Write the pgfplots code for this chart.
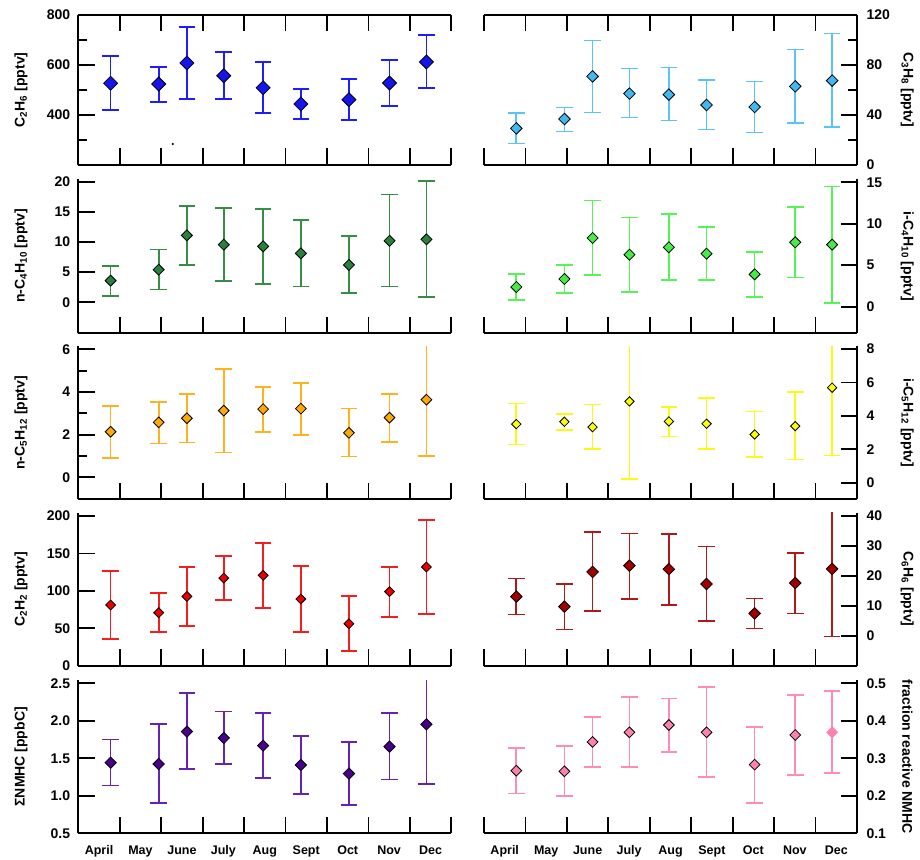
\documentclass[border=0pt]{standalone}
\usepackage{fontspec}
\setmainfont{Liberation Sans}
\usepackage{pgfplots}
\usepackage{pgfplotstable}
\pgfplotsset{compat=1.18}

\definecolor{cBlueF}{RGB}{20,20,235}
\definecolor{cBlueB}{RGB}{30,30,250}
\definecolor{cSkyF}{RGB}{64,184,240}
\definecolor{cSkyB}{RGB}{90,195,250}
\definecolor{cDGreenF}{RGB}{40,130,60}
\definecolor{cDGreenB}{RGB}{55,140,70}
\definecolor{cLGreenF}{RGB}{70,235,70}
\definecolor{cLGreenB}{RGB}{85,245,85}
\definecolor{cOrangeF}{RGB}{255,170,0}
\definecolor{cOrangeB}{RGB}{255,178,30}
\definecolor{cYellowF}{RGB}{255,255,0}
\definecolor{cYellowB}{RGB}{250,250,20}
\definecolor{cRedF}{RGB}{235,0,0}
\definecolor{cRedB}{RGB}{245,30,30}
\definecolor{cDRedF}{RGB}{160,0,0}
\definecolor{cDRedB}{RGB}{175,25,25}
\definecolor{cPurpleF}{RGB}{75,0,140}
\definecolor{cPurpleB}{RGB}{100,35,180}
\definecolor{cPinkF}{RGB}{255,130,170}
\definecolor{cPinkB}{RGB}{255,140,180}

% columns: x (month position), y (mean), hi (upper end), lo (lower end)
\pgfplotstableread{
x y hi lo
0.78 527 636 419
1.94 524 593 453
2.62 608 751 465
3.51 557 653 463
4.46 509 612 407
5.37 444 504 384
6.53 461 545 379
7.51 528 619 435
8.40 612 721 508
}\ethane
\pgfplotstableread{
x y hi lo
0.78 29.3 41.6 17.1
1.94 36.8 46.1 26.9
2.62 70.9 99.7 41.9
3.51 57.1 77.1 37.9
4.46 56.3 77.9 35.7
5.37 48.0 68.0 28.3
6.53 46.4 66.7 25.9
7.51 62.9 92.3 33.6
8.40 67.5 105.3 30.4
}\propane
\pgfplotstableread{
x y hi lo
0.78 3.59 5.97 1.10
1.94 5.41 8.78 2.10
2.62 11.10 16.00 6.13
3.51 9.56 15.60 3.48
4.46 9.28 15.50 3.09
5.37 8.12 13.60 2.60
6.53 6.19 11.00 1.49
7.51 10.20 17.90 2.60
8.40 10.44 20.10 0.83
}\nbutane
\pgfplotstableread{
x y hi lo
0.78 2.37 3.90 0.80
1.94 3.34 5.03 1.65
2.62 8.28 12.79 3.82
3.51 6.27 10.74 1.81
4.46 7.16 11.18 3.18
5.37 6.39 9.57 3.22
6.53 3.90 6.63 1.17
7.51 7.76 12.02 3.50
8.40 7.48 14.48 0.48
}\ibutane
\pgfplotstableread{
x y hi lo
0.78 2.14 3.34 0.92
1.94 2.58 3.53 1.58
2.62 2.77 3.91 1.64
3.51 3.13 5.08 1.16
4.46 3.20 4.25 2.13
5.37 3.22 4.42 1.97
6.53 2.09 3.23 0.97
7.51 2.80 3.92 1.67
8.40 3.64 7.00 1.00
}\npentane
\pgfplotstableread{
x y hi lo
0.78 3.51 4.75 2.29
1.94 3.65 4.13 3.17
2.62 3.33 4.69 2.03
3.51 4.87 9.50 0.24
4.46 3.67 4.55 2.77
5.37 3.53 5.09 2.00
6.53 2.89 4.27 1.54
7.51 3.39 5.43 1.40
8.40 5.69 9.50 1.64
}\ipentane
\pgfplotstableread{
x y hi lo
0.78 81.1 126.5 36.1
1.94 70.8 96.7 45.0
2.62 92.6 131.4 53.4
3.51 117.1 146.5 88.2
4.46 120.7 163.9 77.5
5.37 89.1 133.2 45.4
6.53 56.1 93.5 19.2
7.51 98.9 132.3 65.0
8.40 131.8 194.6 69.5
}\ethyne
\pgfplotstableread{
x y hi lo
0.78 13.1 19.1 7.1
1.94 9.75 17.3 2.2
2.62 21.3 34.5 8.2
3.51 23.4 34.1 12.4
4.46 22.2 33.8 10.4
5.37 17.3 29.8 4.9
6.53 7.5 12.5 2.5
7.51 17.6 27.7 7.5
8.40 22.3 46.0 -0.2
}\benzene
\pgfplotstableread{
x y hi lo
0.78 1.442 1.749 1.136
1.94 1.424 1.958 0.904
2.62 1.856 2.367 1.353
3.51 1.771 2.122 1.420
4.46 1.669 2.104 1.242
5.37 1.411 1.798 1.024
6.53 1.296 1.713 0.882
7.51 1.656 2.104 1.216
8.40 1.953 2.800 1.153
}\nmhc
\pgfplotstableread{
x y hi lo
0.78 0.2670 0.3276 0.2058
1.94 0.2653 0.3320 0.1987
2.62 0.3436 0.4102 0.2760
3.51 0.3693 0.4627 0.2769
4.46 0.3889 0.4591 0.3169
5.37 0.3693 0.4902 0.2493
6.53 0.2831 0.3844 0.1809
7.51 0.3622 0.4680 0.2556
}\fracA
\pgfplotstableread{
x y hi lo
8.40 0.3693 0.4796 0.2600
}\fracB

\tikzset{ylab/.style={font=\fontsize{14}{16}\selectfont\bfseries}}
\pgfplotsset{
  /pgfplots/table/errtab/.style={x=x, y=y,
    y error plus expr=\thisrow{hi}-\thisrow{y},
    y error minus expr=\thisrow{y}-\thisrow{lo}},
  fin/.style={
    axis line style={-, line width=1.8pt, black},
    x axis line style={-}, y axis line style={-},
    tick style={black, line width=1.8pt},
    major tick length=16.5pt, minor tick length=9pt,
    xtick align=inside, ytick align=inside,
  },
  base/.style={
    scale only axis,
    width=373pt,
    xmin=0, xmax=9,
    xtick={0,...,9}, xticklabels={},
    /pgf/number format/assume math mode=true,
    yticklabel style={font=\fontsize{14}{16}\selectfont\bfseries},
  },
  lefty/.style={
    base, axis y line=left,
    yticklabel style={xshift=-4.6pt},
    every axis y label/.style={at={(axis description cs:0,0.5)}, xshift=-57.3pt, anchor=center, rotate=90, ylab},
  },
  righty/.style={
    base, axis y line=right,
    yticklabel style={xshift=6pt},
    every axis y label/.style={at={(axis description cs:1,0.5)}, xshift=50.3pt, anchor=center, rotate=-90, ylab},
  },
  months/.style={
    extra x ticks={0.5,1.5,...,8.5},
    extra x tick labels={April,May,June,July,Aug,Sept,Oct,Nov,Dec},
    extra x tick style={major tick length=0pt, tick style={draw=none},
      xticklabel style={font=\fontsize{12.5}{14}\selectfont\bfseries, yshift=-9pt}},
  },
  pts/.style n args={4}{
    only marks, mark=square*, mark size=#3,
    mark options={fill=#1, draw=#4, line width=0.8pt, rotate=45},
    error bars/.cd, y dir=both, y explicit,
    error bar style={color=#2, line width=1.7pt},
    error mark options={rotate=90, mark size=8.3pt, line width=1.7pt, color=#2},
    /pgfplots/.cd,
  },
}

\begin{document}
\begin{tikzpicture}
\path[use as bounding box] (0,0) rectangle (920pt,859pt);

% ---------- Row 1 ----------
\begin{axis}[base, axis x line=box, axis y line=left,
  yticklabel style={xshift=-4.6pt},
  every axis y label/.style={at={(axis description cs:0,0.5)}, xshift=-57.3pt, anchor=center, rotate=90, ylab},
  at={(78.3pt,694pt)}, anchor=south west, height=150pt,
  ymin=200, ymax=800, ytick={400,600,800}, minor ytick={300,500,700},
  ylabel={C\textsubscript{2}H\textsubscript{6} [pptv]}, fin]
\addplot[pts={cBlueF}{cBlueB}{4.95pt}{black}] table[errtab] {\ethane};
\addplot[only marks, mark=*, mark size=0.9pt, black] coordinates {(2.28,284)};
\end{axis}
\begin{axis}[base, axis x line=box, axis y line=right,
  yticklabel style={xshift=6pt},
  every axis y label/.style={at={(axis description cs:1,0.5)}, xshift=50.3pt, anchor=center, rotate=-90, ylab},
  at={(484pt,694pt)}, anchor=south west, height=150pt,
  ymin=0, ymax=120, ytick={0,40,80,120}, minor ytick={20,60,100},
  ylabel={C\textsubscript{3}H\textsubscript{8} [pptv]}, fin]
\addplot[pts={cSkyF}{cSkyB}{4.1pt}{black}] table[errtab] {\propane};
\end{axis}

% ---------- Row 2 ----------
\begin{axis}[axis x line=bottom, lefty, at={(78.3pt,525.7pt)}, anchor=south west, height=154.6pt,
  ymin=-5.14, ymax=20.5, ytick={0,5,10,15,20},
  ylabel={n-C\textsubscript{4}H\textsubscript{10} [pptv]}, fin]
\addplot[pts={cDGreenF}{cDGreenB}{3.9pt}{black}] table[errtab] {\nbutane};
\end{axis}
\begin{axis}[axis x line=bottom, righty, at={(484pt,525.7pt)}, anchor=south west, height=154pt,
  ymin=-3.21, ymax=15.36, ytick={0,5,10,15},
  ylabel={i-C\textsubscript{4}H\textsubscript{10} [pptv]}, fin]
\addplot[pts={cLGreenF}{cLGreenB}{3.9pt}{black}] table[errtab] {\ibutane};
\end{axis}

% ---------- Row 3 ----------
\begin{axis}[axis x line=bottom, lefty, at={(78.3pt,359.7pt)}, anchor=south west, height=152.9pt,
  ymin=-1.03, ymax=6.14, ytick={0,2,4,6}, minor ytick={1,3,5},
  ylabel={n-C\textsubscript{5}H\textsubscript{12} [pptv]}, fin]
\addplot[pts={cOrangeF}{cOrangeB}{3.8pt}{black}] table[errtab] {\npentane};
\end{axis}
\begin{axis}[axis x line=bottom, righty, at={(484pt,359.7pt)}, anchor=south west, height=153.2pt,
  ymin=-0.99, ymax=8.18, ytick={0,2,4,6,8},
  ylabel={i-C\textsubscript{5}H\textsubscript{12} [pptv]}, fin]
\addplot[pts={cYellowF}{cYellowB}{3.3pt}{black}] table[errtab] {\ipentane};
\end{axis}

% ---------- Row 4 ----------
\begin{axis}[axis x line=bottom, lefty, at={(78.3pt,193.3pt)}, anchor=south west, height=152.7pt,
  ymin=0, ymax=204, ytick={0,50,100,150,200},
  ylabel={C\textsubscript{2}H\textsubscript{2} [pptv]}, fin]
\addplot[pts={cRedF}{cRedB}{3.5pt}{black}] table[errtab] {\ethyne};
\end{axis}
\begin{axis}[axis x line=bottom, righty, at={(484pt,193.3pt)}, anchor=south west, height=153pt,
  ymin=-9.88, ymax=41, ytick={0,10,20,30,40},
  ylabel={C\textsubscript{6}H\textsubscript{6} [pptv]}, fin]
\addplot[pts={cDRedF}{cDRedB}{4.1pt}{black}] table[errtab] {\benzene};
\end{axis}

% ---------- Row 5 ----------
\begin{axis}[axis x line=bottom, lefty, months, at={(78.3pt,25.7pt)}, anchor=south west, height=153pt,
  ymin=0.5, ymax=2.54, ytick={0.5,1.0,1.5,2.0,2.5},
  yticklabel style={/pgf/number format/.cd, fixed, fixed zerofill, precision=1},
  ylabel={ΣNMHC [ppbC]}, fin]
\addplot[pts={cPurpleF}{cPurpleB}{4.0pt}{black}] table[errtab] {\nmhc};
\end{axis}
\begin{axis}[axis x line=bottom, righty, months, at={(484pt,25.7pt)}, anchor=south west, height=153pt,
  ymin=0.1, ymax=0.508, ytick={0.1,0.2,0.3,0.4,0.5},
  yticklabel style={/pgf/number format/.cd, fixed, fixed zerofill, precision=1},
  ylabel={fraction reactive NMHC}, fin]
\addplot[pts={cPinkF}{cPinkB}{3.8pt}{black}] table[errtab] {\fracA};
\addplot[pts={cPinkF}{cPinkB}{3.8pt}{cPinkF}] table[errtab] {\fracB};
\end{axis}
\end{tikzpicture}
\end{document}
